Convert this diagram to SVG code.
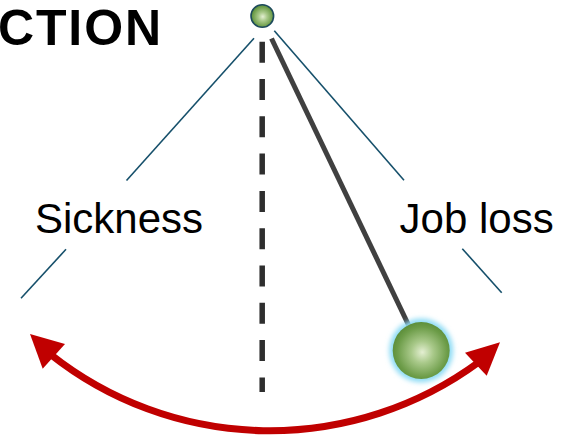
<svg xmlns="http://www.w3.org/2000/svg" width="570" height="439" viewBox="0 0 570 439">
  <style>
    .label { font-family: "Liberation Sans", Arial, sans-serif; font-size: 42px; fill: #000; }
    .title { font-family: "Liberation Sans", Arial, sans-serif; font-size: 50px; font-weight: bold; fill: #000; }
    .swing { stroke: #16506b; stroke-width: 1.6; fill: none; }
    .plumb { stroke: #2e2e2e; stroke-width: 5.5; stroke-dasharray: 21 16.3; fill: none; }
    .rod { stroke: #404040; stroke-width: 5; stroke-linecap: butt; fill: none; }
    .arc { stroke: #c00000; stroke-width: 7; fill: none; }
    .arrowhead { fill: #c00000; }
  </style>
  <defs>
    <radialGradient id="ballFill" cx="0.52" cy="0.53" r="0.55">
      <stop offset="0" stop-color="#e4efd2"/>
      <stop offset="0.35" stop-color="#a9c98a"/>
      <stop offset="0.8" stop-color="#6c9c48"/>
      <stop offset="1" stop-color="#5a8c38"/>
    </radialGradient>
    <filter id="glow" x="-50%" y="-50%" width="200%" height="200%">
      <feGaussianBlur stdDeviation="2.5"/>
    </filter>
  </defs>

  <!-- heading fragment -->
  <text class="title" x="-2" y="44.5" textLength="163">CTION</text>

  <!-- swing limits, plumb line, rod and motion arc -->
  <g id="connectors">
    <line class="swing" x1="254" y1="38.3" x2="126.5" y2="180.5"/>
    <line class="swing" x1="66" y1="249.3" x2="21" y2="298.3"/>
    <line class="swing" x1="274.3" y1="30.7" x2="404" y2="180.3"/>
    <line class="swing" x1="462.3" y1="248.7" x2="501.7" y2="292.7"/>
    <line class="plumb" x1="262.2" y1="41.7" x2="262.2" y2="392"/>
    <line class="rod" x1="271.5" y1="38.5" x2="409" y2="326"/>
    <path class="arc" d="M 50 354 A 353 353 0 0 0 479 362"/>
    <polygon class="arrowhead" points="30,334 65,344 42.7,368.7"/>
    <polygon class="arrowhead" points="500,342.3 465,352.7 486.7,375.7"/>
  </g>

  <!-- pivot -->
  <g id="pivot">
    <circle cx="262.3" cy="16" r="11.3" fill="url(#ballFill)" stroke="#1d4a5c" stroke-width="1.6"/>
  </g>

  <!-- bob -->
  <g id="bob">
    <circle cx="421.2" cy="350.5" r="32" fill="#8fdcf5" filter="url(#glow)"/>
    <circle cx="421.2" cy="350.5" r="28.5" fill="url(#ballFill)"/>
  </g>

  <g id="sickness">
    <text class="label" x="35" y="233">Sickness</text>
  </g>
  <g id="job-loss">
    <text class="label" x="399.6" y="233">Job loss</text>
  </g>
</svg>
